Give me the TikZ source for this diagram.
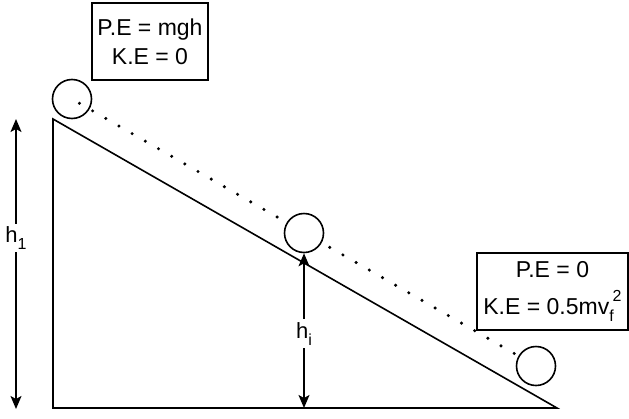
\documentclass[tikz,border=0pt]{standalone}
\usepackage{fontspec}
\setmainfont{Liberation Sans}
\usetikzlibrary{arrows.meta,positioning}
\newcommand{\subtxt}[1]{\raisebox{-0.3em}{\fontsize{16}{16}\selectfont #1}}
\newcommand{\suptxt}[1]{\raisebox{0.55em}{\fontsize{16}{16}\selectfont #1}}

\begin{document}
\begin{tikzpicture}[
  x=1pt, y=-1pt,
  ball/.style={circle, draw, line width=1.6pt, fill=white, minimum size=39pt, inner sep=0pt},
  infobox/.style={draw, line width=1.6pt, align=center, inner sep=0pt, font=\fontsize{23}{29}\selectfont},
  trail/.style={line width=3.4pt, line cap=round, dash pattern=on 0pt off 15.2pt, dash phase=6.6pt},
  dim/.style={{Stealth[length=13pt,width=11pt,inset=3pt]}-{Stealth[length=13pt,width=11pt,inset=3pt]}, line width=1.6pt},
  lbl/.style={fill=white, inner sep=3pt, font=\fontsize{22}{25}\selectfont}
]
\useasboundingbox (0,0) rectangle (629,418);
% slope
\coordinate (top) at (53,119);
\coordinate (corner) at (53,408);
\coordinate (foot) at (557,408);
\draw[line width=1.6pt] (top) -- (corner) -- (foot) -- cycle;
% ball positions
\node[ball, fill=none] (start) at (72,99) {};
\node[ball] (end) at (536,366) {};
\draw[trail] (start.center) -- (end);
\node[ball] (mid) at (304,233) {};
% energy boxes
\node[infobox, minimum width=116pt, minimum height=77pt] (topbox) at (150,41.5) {P.E = mgh\\K.E = 0};
\node[infobox, minimum width=151pt, minimum height=77pt, font=\fontsize{23}{37}\selectfont] (endbox) at (552.5,291.5) {P.E = 0\\K.E = 0.5mv\subtxt{f}\kern-1pt\suptxt{2}};
% heights
\coordinate (h1top) at (16,119);
\coordinate (h1bot) at (16,409);
\draw[dim] (h1top) -- node[lbl, pos=0.41] (h1) {h\subtxt{1}} (h1bot);
\coordinate (hibot) at (mid.south |- corner);
\draw[dim] (mid.south) -- node[lbl, pos=0.52] (hi) {h\subtxt{i}} (hibot);
\end{tikzpicture}
\end{document}
